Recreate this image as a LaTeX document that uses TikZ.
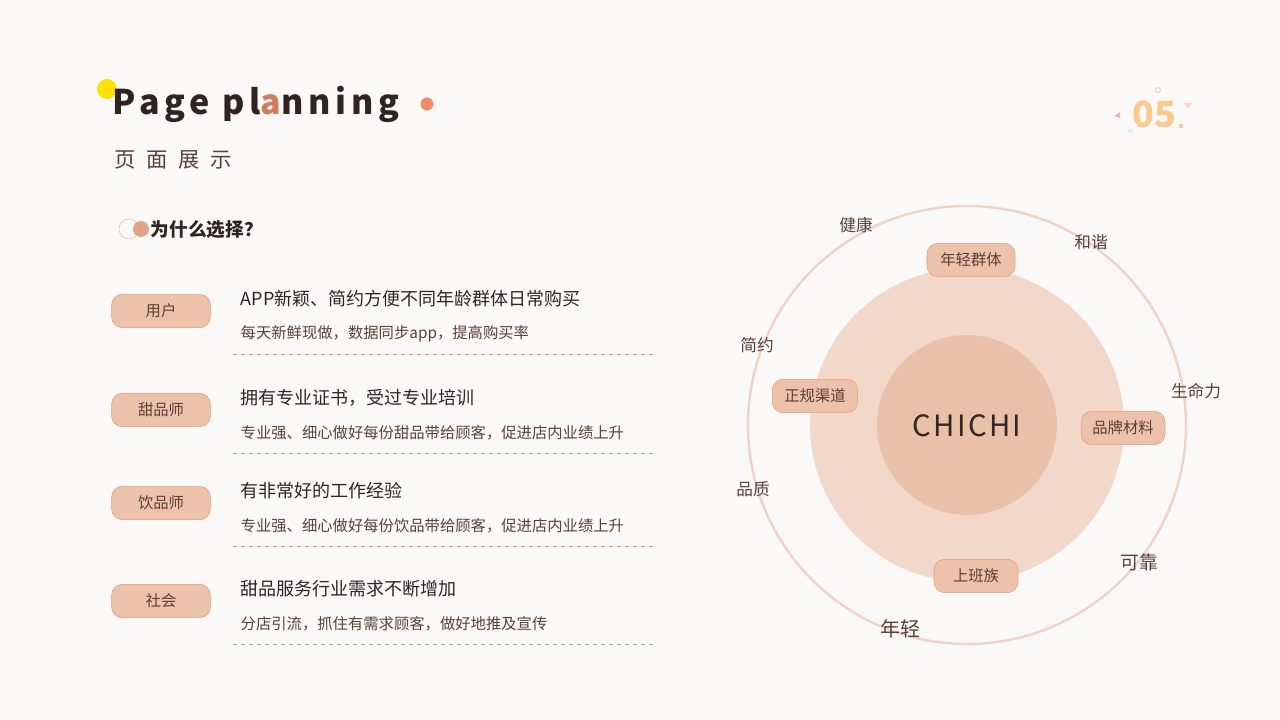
\documentclass[tikz,border=0pt]{standalone}
\usepackage{fontspec}
\setmainfont{Noto Sans CJK SC}
\newfontfamily\titlefont[LetterSpace=14]{Noto Sans CJK SC}
\newfontfamily\chifont[LetterSpace=8]{Noto Sans CJK SC}
\definecolor{bg}{HTML}{FBF9F7}
\definecolor{pill}{HTML}{EDC2AA}
\definecolor{pillb}{HTML}{E59A75}
\definecolor{ring}{HTML}{EFD3C6}
\definecolor{mid}{HTML}{F2D8CB}
\definecolor{inner}{HTML}{E9C0A8}
\definecolor{txt}{HTML}{2E2522}
\definecolor{brown}{HTML}{5A4036}
\definecolor{orn}{HTML}{F08A6A}
\definecolor{gold}{HTML}{F8CB8C}
\begin{document}
\begin{tikzpicture}[x=0.75pt,y=-0.75pt,
  pillbox/.style={draw=pillb,fill=pill,rounded corners=8pt,minimum height=25pt,text=brown,font=\fontsize{11.5}{14}\selectfont,inner sep=0pt},
  lab/.style={text=brown,font=\fontsize{12.5}{14}\selectfont},
  head/.style={anchor=west,text=txt,font=\fontsize{13.5}{16}\selectfont},
  sub/.style={anchor=west,text=brown,font=\fontsize{11.5}{14}\selectfont},
  dl/.style={dashed,dash pattern=on 3pt off 3pt,line width=0.6pt}]
\fill[bg] (0,0) rectangle (1280,720);
\useasboundingbox (0,0) rectangle (1280,720);
% title
\fill[yellow!85!orange] (107,89) circle (10);
\node[anchor=west,text=txt,font=\titlefont\fontsize{25.5}{30}\selectfont\bfseries,inner sep=0] (t) at (112,104) {Page pl\textcolor{orn!80!brown}{a}nning};
\fill[orn] (427,104) circle (6.5);
\node[anchor=west,text=brown,font=\fontsize{16}{18}\selectfont,inner sep=0] (st) at (114,160) {页\hspace{8pt}面\hspace{8pt}展\hspace{8pt}示};
% 05
\node[text=gold,font=\fontsize{27}{30}\selectfont\bfseries] (n05) at (1154,114) {05};
\fill[gold] (1179,124) rectangle (1183,128);
\draw[violet!30] (1158,90) circle (2.5);
\fill[violet!30] (1114,116) -- (1120,112) -- (1120,118) -- cycle;
\fill[pink!70] (1184,103) -- (1192,103) -- (1188,109) -- cycle;
\fill[cyan!15] (1128,129) rectangle (1133,133);
% why
\draw[pillb!70] (129,229) circle (10);
\fill[pillb!90!brown,opacity=0.8] (141,229) circle (8);
\node[anchor=west,text=txt,font=\fontsize{14}{16}\selectfont\bfseries] (why) at (146,230) {为什么选择？};
% rows
\foreach \y/\n/\h/\s/\c in {311/用户/APP新颖、简约方便不同年龄群体日常购买/每天新鲜现做，数据同步app，提高购买率/orn,
  410/甜品师/拥有专业证书，受过专业培训/专业强、细心做好每份甜品带给顾客，促进店内业绩上升/gray!70,
  503/饮品师/有非常好的工作经验/专业强、细心做好每份饮品带给顾客，促进店内业绩上升/orn,
  601/社会/甜品服务行业需求不断增加/分店引流，抓住有需求顾客，做好地推及宣传/gray!70}{
  \node[pillbox,minimum width=74pt] at (161,\y) {\n};
  \node[head] at (236,\y-12) {\h};
  \node[sub] at (236,\y+23) {\s};
  \draw[dl,\c] (233,\y+43) -- (655,\y+43);
}
% circles
\draw[ring,line width=1.8pt] (967,425) circle (219);
\fill[mid] (967,425) circle (157);
\fill[inner] (967,425) circle (90);
\node[text=txt!90!brown,font=\chifont\fontsize{22}{24}\selectfont] (c) at (967,426) {CHICHI};
\node[pillbox,minimum width=66pt] (p1) at (971,260) {年轻群体};
\node[pillbox,minimum width=64pt] (p2) at (815,396) {正规渠道};
\node[pillbox,minimum width=63pt] (p3) at (1123,428) {品牌材料};
\node[pillbox,minimum width=63pt] (p4) at (976,576) {上班族};
\node[lab] at (856,225) {健康};
\node[lab] at (1091,242) {和谐};
\node[lab] at (757,345) {简约};
\node[lab] at (1196,391) {生命力};
\node[lab] at (753,489) {品质};
\node[lab,font=\fontsize{14}{16}\selectfont] at (1139,562) {可靠};
\node[lab,font=\fontsize{15}{17}\selectfont] at (900,629) {年轻};
\end{tikzpicture}
\end{document}
